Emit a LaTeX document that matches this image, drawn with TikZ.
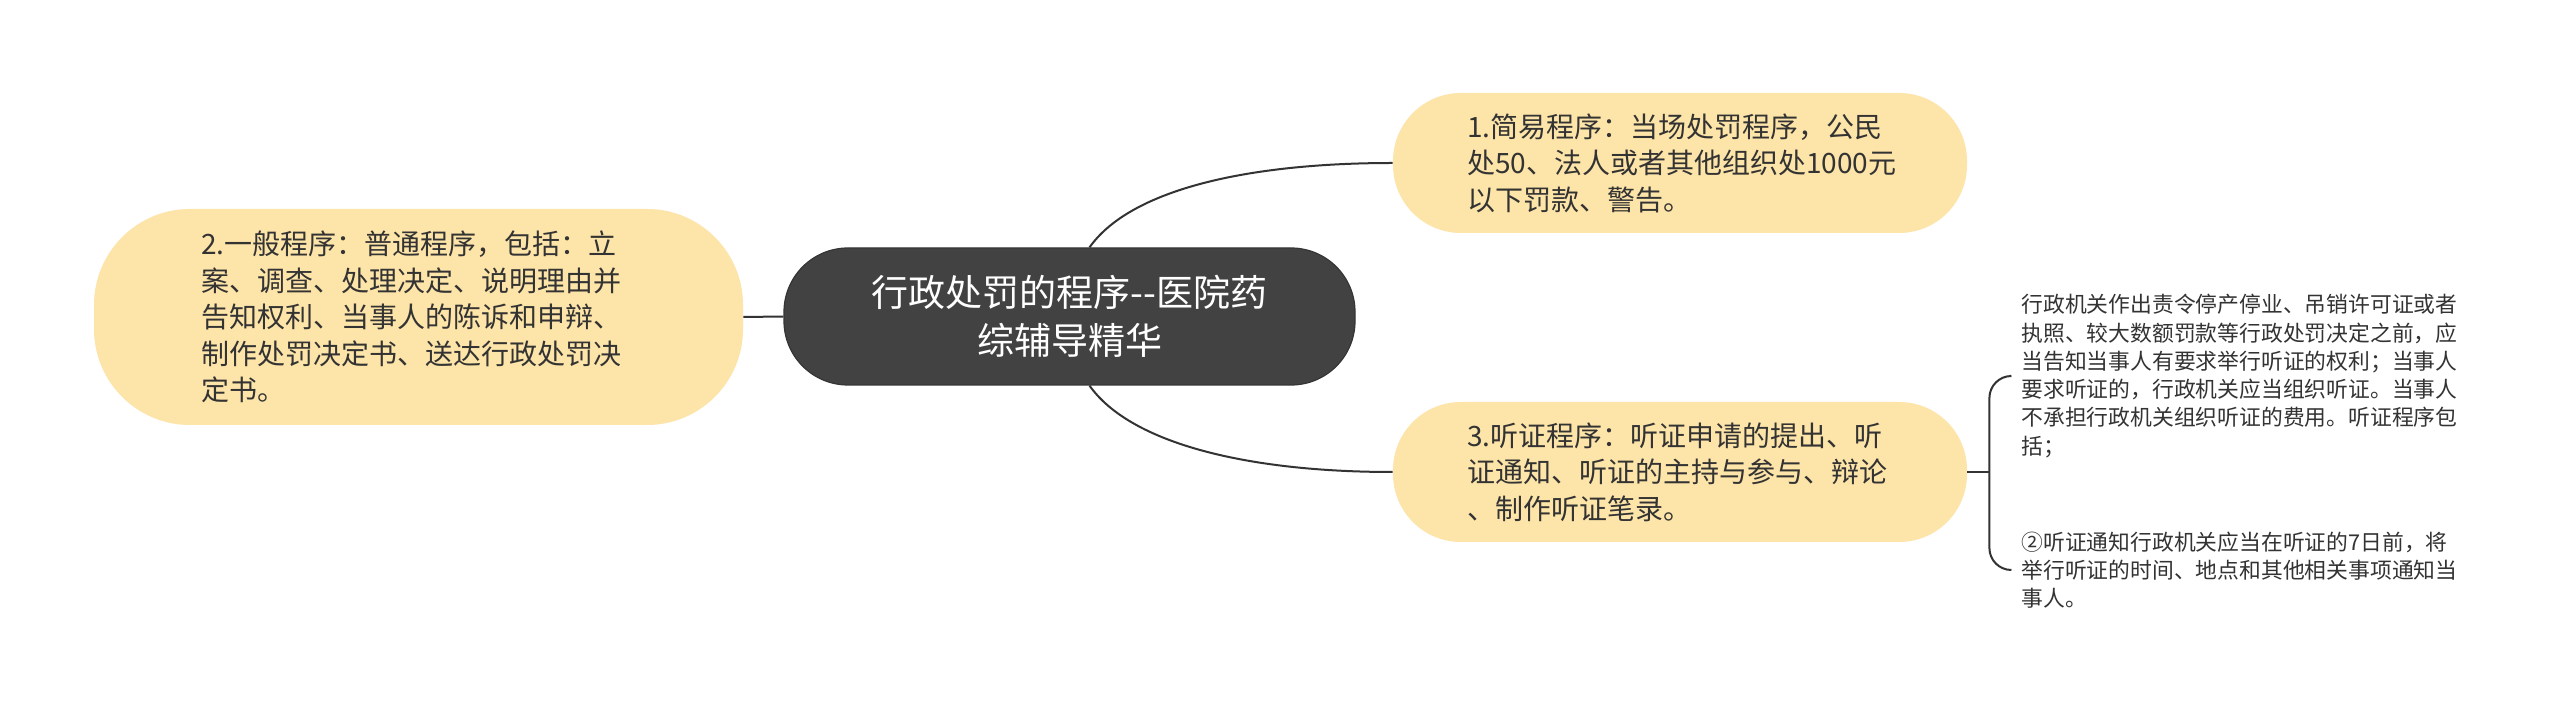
\documentclass[tikz,border=0pt]{standalone}
\usepackage{fontspec}
\setmainfont{Noto Sans CJK SC}
\usetikzlibrary{calc}
\definecolor{topicdark}{HTML}{424242}
\definecolor{topicedge}{HTML}{353535}
\definecolor{topicyellow}{HTML}{FDE4A9}
\definecolor{inkgray}{HTML}{333333}
\tikzset{
  maintopic/.style={fill=topicdark, draw=topicedge, line width=0.6pt, text=white, align=center,
    inner sep=0pt, minimum width=285.5pt, minimum height=68.5pt, rounded corners=32pt,
    font=\fontsize{18.5pt}{24pt}\selectfont},
  subtopic/.style={fill=topicyellow, text=inkgray, align=left, inner sep=0pt,
    font=\fontsize{14pt}{18.25pt}\selectfont},
  leaftext/.style={text=inkgray, align=left, inner sep=0pt, anchor=west,
    font=\fontsize{10.9pt}{14.15pt}\selectfont},
  link/.style={draw=inkgray, line width=1pt},
}

\begin{document}
\begin{tikzpicture}[x=0.5pt,y=-0.5pt]
		%%%%% START %%%%%
		\useasboundingbox[fill=white] (0,0) rectangle (2560,715);
		
		\node[maintopic] (main) at (1069.5,316.5) {行政处罚的程序-{}-医院药\\综辅导精华};
		
		\node[subtopic, minimum width=324.5pt, minimum height=108pt, text width=217.5pt, rounded corners=48pt] (general) at (418.5,317)
		{2.一般程序：普通程序，包括：立\\案、调查、处理决定、说明理由并\\告知权利、当事人的陈诉和申辩、\\制作处罚决定书、送达行政处罚决\\定书。};
		\node[subtopic, minimum width=287pt, minimum height=70pt, text width=213pt, rounded corners=34pt] (easy) at (1680,163)
		{1.简易程序：当场处罚程序，公民\\处50、法人或者其他组织处1000元\\以下罚款、警告。};
		\node[subtopic, minimum width=287pt, minimum height=70pt, text width=213pt, rounded corners=34pt] (hearing) at (1680,472)
		{3.听证程序：听证申请的提出、听\\证通知、听证的主持与参与、辩论\\、制作听证笔录。};
		
		\node[leaftext] (notice) at (2021,376)
		{行政机关作出责令停产停业、吊销许可证或者\\执照、较大数额罚款等行政处罚决定之前，应\\当告知当事人有要求举行听证的权利；当事人\\要求听证的，行政机关应当组织听证。当事人\\不承担行政机关组织听证的费用。听证程序包\\括；};
		\node[leaftext] (inform) at (2021,570)
		{②听证通知行政机关应当在听证的7日前，将\\举行听证的时间、地点和其他相关事项通知当\\事人。};
		
		\draw[link] (main.west) -- (general.east);
		\draw[link] ([xshift=10pt]main.north) .. controls +(41,-58) and +(-145,0) .. (easy.west);
		\draw[link] ([xshift=10pt]main.south) .. controls +(41,58) and +(-145,0) .. (hearing.west);
		
		\draw[link] (hearing.east) -- ++(22,0) coordinate (fork);
		\draw[link, rounded corners=11pt] ([xshift=-5.5pt]notice.west) -| (fork) |- ([xshift=-5.5pt]inform.west);
		
		%%%%% END %%%%%
	\end{tikzpicture}
\end{document}
